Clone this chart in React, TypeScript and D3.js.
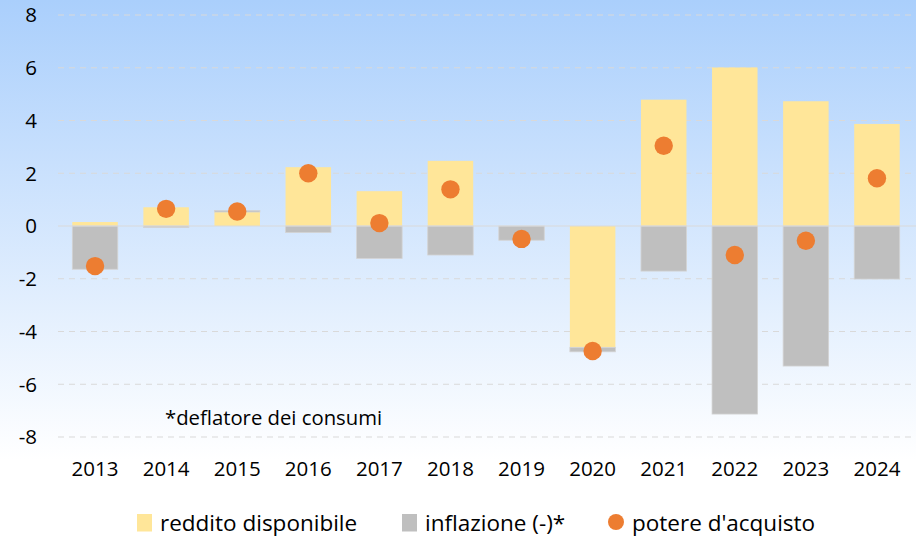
import React from "react";
import * as d3 from "d3";

const years = ["2013", "2014", "2015", "2016", "2017", "2018", "2019", "2020", "2021", "2022", "2023", "2024"];
const reddito = [0.15, 0.71, 0.53, 2.23, 1.32, 2.47, 0, -4.6, 4.79, 6.01, 4.73, 3.87];
const inflazione = [-1.64, -0.06, 0.06, -0.25, -1.23, -1.1, -0.54, -0.17, -1.71, -7.13, -5.31, -2.01];
const potere = [-1.52, 0.65, 0.55, 2.0, 0.11, 1.39, -0.49, -4.74, 3.04, -1.1, -0.56, 1.81];
const yTicks = [-8, -6, -4, -2, 0, 2, 4, 6, 8];
const seriesNames = ["reddito disponibile", "inflazione (-)*", "potere d'acquisto"];
const note = "*deflatore dei consumi";

const W = 916;
const H = 541;
const FONT = "'Open Sans', sans-serif";
const YELLOW = "#ffe699";
const GRAY = "#bfbfbf";
const ORANGE = "#ed7d31";

export default function App() {
  const x = d3.scaleBand<string>().domain(years).range([59.5, 912.5]).paddingInner(0.36).paddingOuter(0.18);
  const y = d3.scaleLinear().domain([-8, 8]).range([437, 15]);

  const rows = years.map((yr, i) => ({ year: yr, reddito: reddito[i], inflazione: inflazione[i] }));
  const stack = d3.stack<any>().keys(["reddito", "inflazione"]).offset(d3.stackOffsetDiverging);
  const layers = stack(rows);
  const colors = [YELLOW, GRAY];

  return (
    <div style={{ position: "absolute", left: 0, top: 0 }}>
      <svg width={W} height={H} style={{ display: "block" }}>
        <defs>
          <linearGradient id="bg" x1="0" y1="0" x2="0" y2="1">
            <stop offset="0" stopColor="#aacffc" />
            <stop offset="0.85" stopColor="#ffffff" />
            <stop offset="1" stopColor="#ffffff" />
          </linearGradient>
        </defs>
        <rect x={0} y={0} width={W} height={H} fill="url(#bg)" />
        {yTicks.map((t) => (
          <g key={t}>
            {t !== 0 && (
              <line x1={58} x2={916} y1={y(t)} y2={y(t)} stroke="#d9d9d9" strokeWidth={1} strokeDasharray="6,5" />
            )}
            <text x={37} y={y(t)} dy="0.36em" textAnchor="end" fontFamily={FONT} fontSize={20.5} fill="#000">
              {t}
            </text>
          </g>
        ))}
        {layers.map((layer, li) => (
          <g key={li}>
            {layer.map((d, i) => {
              const y0 = y(d[0]);
              const y1 = y(d[1]);
              const top = Math.min(y0, y1);
              const h = Math.abs(y1 - y0);
              if (h < 0.01) return null;
              return (
                <rect
                  key={i}
                  x={x(years[i])}
                  y={top}
                  width={x.bandwidth()}
                  height={h}
                  fill={colors[li]}
                  stroke={li === 1 ? "#d4d4d4" : "none"}
                  strokeWidth={li === 1 ? 0.8 : 0}
                />
              );
            })}
          </g>
        ))}
        <line x1={58} x2={916} y1={y(0)} y2={y(0)} stroke="#d9d9d9" strokeWidth={1.2} />
        {potere.map((v, i) => (
          <circle key={i} cx={(x(years[i]) as number) + x.bandwidth() / 2} cy={y(v)} r={9.2} fill={ORANGE} />
        ))}
        {years.map((yr) => (
          <text key={yr} x={(x(yr) as number) + x.bandwidth() / 2} y={476} textAnchor="middle" fontFamily={FONT} fontSize={20.5} fill="#000">
            {yr}
          </text>
        ))}
        <text x={165} y={425} fontFamily={FONT} fontSize={20.3} fill="#000">
          {note}
        </text>
        <g fontFamily={FONT} fontSize={22.5} fill="#000">
          <rect x={137} y={514} width={15} height={17.5} fill={YELLOW} />
          <text x={160} y={531}>{seriesNames[0]}</text>
          <rect x={402} y={514} width={15} height={17.5} fill={GRAY} />
          <text x={425} y={531}>{seriesNames[1]}</text>
          <circle cx={616} cy={522} r={8} fill={ORANGE} />
          <text x={632} y={531}>{seriesNames[2]}</text>
        </g>
      </svg>
    </div>
  );
}
